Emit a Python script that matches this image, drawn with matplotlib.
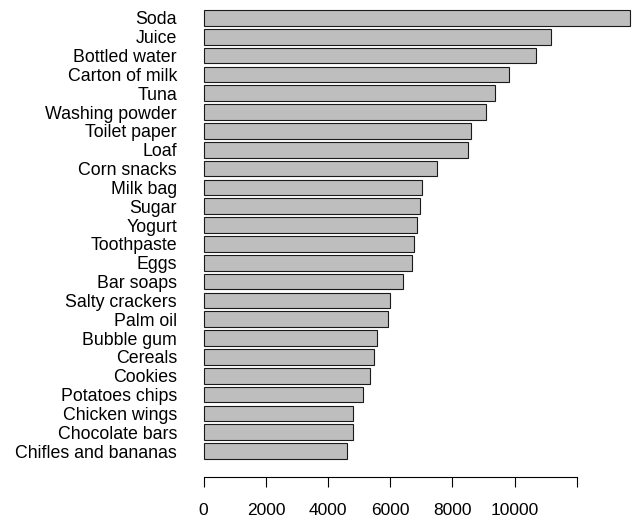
import matplotlib
matplotlib.use('Agg')
import matplotlib.pyplot as plt

# products sorted from top to bottom
products = ['Soda', 'Juice', 'Bottled water', 'Carton of milk', 'Tuna',
	'Washing powder', 'Toilet paper', 'Loaf', 'Corn snacks', 'Milk bag',
	'Sugar', 'Yogurt', 'Toothpaste', 'Eggs', 'Bar soaps', 'Salty crackers',
	'Palm oil', 'Bubble gum', 'Cereals', 'Cookies', 'Potatoes chips',
	'Chicken wings', 'Chocolate bars', 'Chifles and bananas']
counts = [13700, 11170, 10700, 9820, 9370, 9080, 8600, 8500, 7500, 7010,
	6950, 6870, 6750, 6710, 6400, 5990, 5940, 5570, 5480, 5350, 5120,
	4810, 4790, 4600]
xticks = [0, 2000, 4000, 6000, 8000, 10000, 12000]
xticklabels = ['0', '2000', '4000', '6000', '8000', '10000', '']

plt.rcParams['font.family'] = ['Liberation Sans', 'DejaVu Sans']

W, H = 636, 520
fig = plt.figure(figsize=(W / 100, H / 100), dpi=100)
# axes placed in pixels to mimic the R barplot layout
left_px, right_px, top_px, bottom_px = 190, 636, 0, 477
ax = fig.add_axes([left_px / W, (H - bottom_px) / H,
	(right_px - left_px) / W, (bottom_px - top_px) / H])

# R style positions: width 1, space 0.2, first bar at bottom
n = len(products)
ypos = [0.7 + 1.2 * i for i in range(n)]
ax.barh(ypos, counts[::-1], height=1.0, color='#bebebe',
	edgecolor='#1a1a1a', linewidth=0.8)

ax.set_xlim(-440, 13900)
ax.set_ylim(-0.946, 29.44)

ax.set_yticks(ypos)
ax.set_yticklabels(products[::-1], fontsize=12.8)
ax.tick_params(axis='y', length=0, pad=9.4)

ax.set_xticks(xticks)
ax.set_xticklabels(xticklabels, fontsize=12.5)
ax.tick_params(axis='x', length=7.5, width=0.8, pad=11.5, direction='out')

for side in ['top', 'right', 'left']:
	ax.spines[side].set_visible(False)
ax.spines['bottom'].set_bounds(0, 12000)
ax.spines['bottom'].set_linewidth(0.8)

fig.savefig('out.png', dpi=100)
